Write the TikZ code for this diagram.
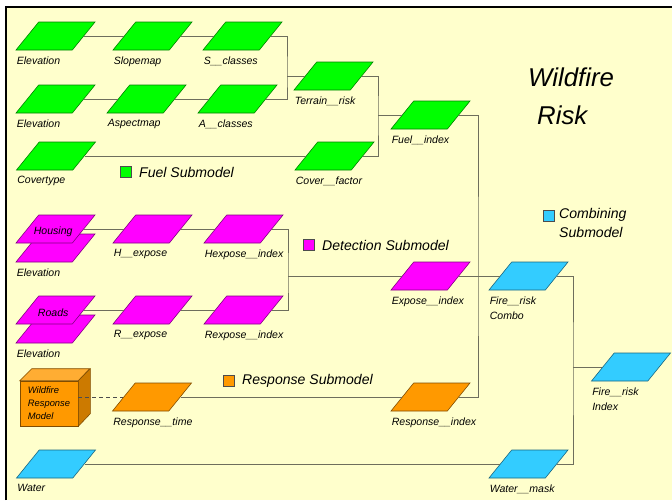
\documentclass[tikz,border=0pt]{standalone}
\usepackage{fontspec}
\setmainfont{Liberation Sans}
\usetikzlibrary{shapes.geometric,positioning}
\definecolor{paper}{HTML}{FFFFCC}
\definecolor{fuelgreen}{HTML}{00FF00}
\definecolor{detmag}{HTML}{FF00FF}
\definecolor{resporange}{HTML}{FF9900}
\definecolor{combblue}{HTML}{33CCFF}
\definecolor{wire}{HTML}{6E6E5C}
\tikzset{
  layer/.style={trapezium, trapezium left angle=56, trapezium right angle=124,
    trapezium stretches=true, minimum width=2.37cm, minimum height=0.84cm,
    inner sep=1pt, line width=0.5pt},
  fuel/.style={layer, fill=fuelgreen, draw=fuelgreen!50!black},
  detect/.style={layer, fill=detmag, draw=detmag!50!black},
  respond/.style={layer, fill=resporange, draw=resporange!50!black},
  combine/.style={layer, fill=combblue, draw=combblue!50!black},
  lbl/.style={anchor=north west, inner sep=1pt, yshift=-4pt, align=left,
    font=\fontsize{9}{13.5}\selectfont\itshape},
  lab/.style={label={[lbl]bottom left corner:#1}},
  inlab/.style={label={[inner sep=0pt, xshift=-2pt, yshift=-2pt, font=\fontsize{9}{10}\selectfont\itshape]center:#1}},
  key/.style={draw=black!70, line width=0.5pt, minimum size=0.34cm, inner sep=0pt},
  keytext/.style={inner sep=0pt, align=left, font=\fontsize{12}{16}\selectfont\itshape},
  wires/.style={draw=wire, line width=0.7pt}
}
\begin{document}
\begin{tikzpicture}[x=0.03cm,y=-0.03cm]
  \useasboundingbox (0,0) rectangle (672,500);
  \fill[paper] (6,7) rectangle (672,500);
  \draw[line width=2.5pt] (6,500) -- (6,7) -- (672,7);

  % title
  \node[anchor=west, inner sep=0pt, font=\fontsize{22}{24}\selectfont\itshape] (title1) at (528,77) {Wildfire};
  \node[anchor=west, inner sep=0pt, font=\fontsize{22}{24}\selectfont\itshape] (title2) at (537,115) {Risk};

  % fuel submodel
  \node[fuel, lab=Elevation] (elev1) at (55.5,36) {};
  \node[fuel, lab=Slopemap] (slope) at (152.5,36) {};
  \node[fuel, lab=S\_\_classes] (scls) at (242.5,36) {};
  \node[fuel, lab=Elevation] (elev2) at (55.5,99) {};
  \node[fuel, lab=Aspectmap] (aspect) at (146.5,99) {};
  \node[fuel, lab=A\_\_classes] (acls) at (237.5,99) {};
  \node[fuel, lab=Terrain\_\_risk] (terr) at (333.5,76) {};
  \node[fuel, lab=Covertype] (covt) at (56,156) {};
  \node[fuel, lab=Cover\_\_factor] (cover) at (334.5,156) {};
  \node[fuel, lab=Fuel\_\_index] (fuel) at (430.5,115) {};

  % detection submodel
  \node[detect, lab=Elevation] (elevh) at (55.5,248) {};
  \node[detect, inlab=Housing] (house) at (55.5,229) {};
  \node[detect, lab=H\_\_expose] (hexp) at (152.5,229) {};
  \node[detect, lab=Hexpose\_\_index] (hidx) at (243.5,229) {};
  \node[detect, lab=Elevation] (elevr) at (55.5,329) {};
  \node[detect, inlab=Roads] (roads) at (55.5,310) {};
  \node[detect, lab=R\_\_expose] (rexp) at (152.5,310) {};
  \node[detect, lab=Rexpose\_\_index] (ridx) at (243.5,310) {};
  \node[detect, lab=Expose\_\_index] (expo) at (430.5,276) {};

  % response submodel
  \node[draw=resporange!50!black, fill=resporange, line width=0.5pt,
    minimum width=1.74cm, minimum height=1.35cm, align=left,
    font=\fontsize{8}{11}\selectfont\itshape] (wrm) at (49,403.5)
    {Wildfire\\Response\\Model};
  \draw[draw=resporange!50!black, fill=resporange!80!white, line width=0.5pt]
    (wrm.north west) -- ++(12,-12) -- ++(58,0) -- (wrm.north east) -- cycle;
  \draw[draw=resporange!50!black, fill=resporange!80!black, line width=0.5pt]
    (wrm.north east) -- ++(12,-12) -- ++(0,45) -- (wrm.south east) -- cycle;
  \node[respond, lab=Response\_\_time] (rtime) at (152,397) {};
  \node[respond, lab=Response\_\_index] (rindex) at (430.5,397) {};

  % combining submodel
  \node[combine, lab={Fire\_\_risk\\Combo}] (combo) at (528.5,276) {};
  \node[combine, lab={Fire\_\_risk\\Index}] (fidx) at (631,367) {};
  \node[combine, lab=Water] (water) at (56,464) {};
  \node[combine, lab=Water\_\_mask] (wmask) at (528.5,464) {};

  % legend
  \node[key, fill=fuelgreen] (kfuel) at (126,172) {};
  \node[keytext, right=6pt of kfuel] (tfuel) {Fuel Submodel};
  \node[key, fill=detmag] (kdet) at (309,245) {};
  \node[keytext, right=6pt of kdet] (tdet) {Detection Submodel};
  \node[key, fill=resporange] (kresp) at (229,381) {};
  \node[keytext, right=6pt of kresp] (tresp) {Response Submodel};
  \node[key, fill=combblue] (kcomb) at (548.5,215.5) {};
  \node[keytext, anchor=north west] (tcomb) at (559,208) {Combining\\Submodel};

  % junctions
  \coordinate (jt) at (287,76);
  \coordinate (jf) at (378,115);
  \coordinate (jd) at (288,276);
  \coordinate (jc) at (478,276);
  \coordinate (jr) at (573,367);

  \begin{scope}[wires]
    \draw (elev1) -- (slope);
    \draw (slope) -- (scls);
    \draw (elev2) -- (aspect);
    \draw (aspect) -- (acls);
    \draw (scls.east) -| (jt) |- (acls.east);
    \draw (jt) -- (terr.west);
    \draw (covt) -- (cover);
    \draw (terr.east) -| (jf) |- (cover.east);
    \draw (jf) -- (fuel.west);
    \draw (house) -- (hexp);
    \draw (hexp) -- (hidx);
    \draw (roads) -- (rexp);
    \draw (rexp) -- (ridx);
    \draw (hidx.east) -| (jd) |- (ridx.east);
    \draw (jd) -- (expo.west);
    \draw (fuel.east) -| (jc) |- (rindex.east);
    \draw (expo) -- (combo);
    \draw (rtime) -- (rindex);
    \draw (water) -- (wmask);
    \draw (combo.east) -| (jr) |- (wmask.east);
    \draw (jr) -- (fidx.west);
    \draw[dashed, draw=black!70] (wrm.east |- rtime.west) -- (rtime.west);
  \end{scope}
\end{tikzpicture}
\end{document}
